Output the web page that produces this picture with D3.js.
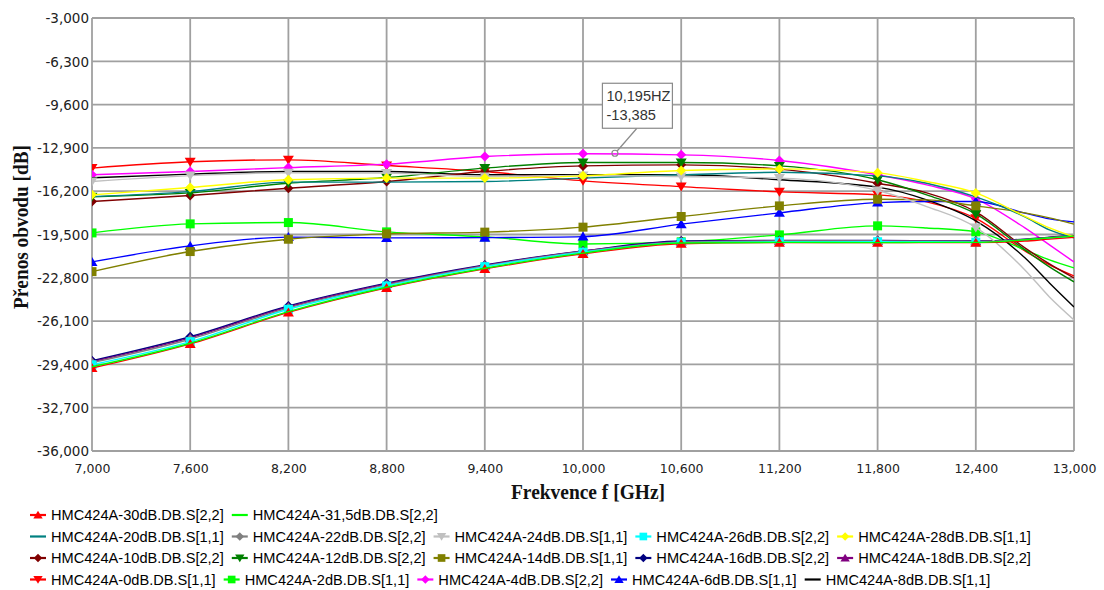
<!DOCTYPE html>
<html>
<head>
<meta charset="utf-8">
<script src="https://cdn.jsdelivr.net/npm/d3@7"></script>
<style>
  body { margin: 0; background: #fff; }
  svg { display: block; }
</style>
</head>
<body>
<svg id="chart" width="1104" height="590"></svg>
<script>
// Frequency points (GHz) at which each trace is sampled
const freqGHz = [7.0, 7.6, 8.2, 8.8, 9.4, 10.0, 10.6, 11.2, 11.8, 12.1, 12.4, 12.7, 12.85, 13.0];

// Transmission [dB] of the HMC424A attenuator at each attenuation state
const s30dB_22   = [-29.68, -27.84, -25.44, -23.57, -22.12, -20.98, -20.20, -20.12, -20.12, -20.12, -20.12, -20.00, -19.85, -19.72];
const s31_5dB_22 = [-29.58, -27.79, -25.38, -23.52, -22.07, -20.92, -20.15, -20.10, -20.12, -20.10, -20.10, -19.90, -19.75, -19.62];
const s20dB_11   = [-16.61, -16.23, -15.51, -15.51, -15.46, -15.20, -14.95, -14.76, -15.03, -15.59, -16.63, -18.16, -19.15, -19.76];
const s22dB_22   = [-29.27, -27.48, -25.10, -23.34, -21.90, -20.80, -20.08, -20.00, -20.00, -20.02, -20.04, -19.90, -19.76, -19.66];
const s24dB_11   = [-15.46, -15.01, -14.80, -14.82, -15.08, -15.00, -15.08, -15.20, -16.15, -17.37, -18.96, -22.20, -24.26, -26.01];
const s26dB_22   = [-29.43, -27.67, -25.20, -23.42, -21.95, -20.85, -20.12, -20.05, -20.05, -20.05, -20.08, -19.95, -19.80, -19.70];
const s28dB_11   = [-16.48, -15.92, -15.33, -15.20, -15.20, -15.03, -14.62, -14.50, -14.80, -15.46, -16.33, -18.12, -19.00, -19.68];
const s10dB_22   = [-16.99, -16.53, -15.97, -15.46, -14.70, -14.27, -14.19, -14.52, -15.59, -16.33, -17.77, -20.52, -21.74, -22.81];
const s12dB_22   = [-16.63, -16.33, -15.59, -15.16, -14.44, -14.01, -14.01, -14.27, -15.33, -16.48, -17.93, -20.67, -21.97, -23.11];
const s14dB_11   = [-22.33, -20.80, -19.86, -19.45, -19.32, -18.94, -18.13, -17.32, -16.81, -16.86, -17.32, -17.85, -18.23, -18.71];
const s16dB_22   = [-29.12, -27.29, -24.95, -23.21, -21.82, -20.75, -20.00, -19.95, -19.95, -19.98, -20.00, -19.85, -19.70, -19.60];
const s18dB_22   = [-29.20, -27.38, -25.02, -23.27, -21.86, -20.78, -20.04, -19.97, -19.97, -20.00, -20.02, -19.88, -19.72, -19.60];
const s0dB_11    = [-14.44, -13.96, -13.81, -14.24, -14.70, -15.41, -15.85, -16.25, -16.48, -17.01, -18.27, -20.75, -21.82, -22.66];
const s2dB_11    = [-19.38, -18.69, -18.59, -19.30, -19.68, -20.22, -20.06, -19.53, -18.84, -19.00, -19.30, -20.67, -21.44, -22.05];
const s4dB_22    = [-14.95, -14.70, -14.40, -14.14, -13.56, -13.35, -13.43, -13.86, -14.95, -15.72, -16.78, -19.00, -20.29, -21.59];
const s6dB_11    = [-21.59, -20.37, -19.70, -19.76, -19.74, -19.66, -18.71, -17.85, -17.07, -16.99, -16.99, -17.87, -18.31, -18.54];
const s8dB_11    = [-15.18, -14.90, -14.70, -14.70, -14.95, -14.95, -14.95, -15.33, -15.89, -16.86, -18.46, -21.28, -23.19, -25.02];

// Axis ticks
const xTicks = [7.0, 7.6, 8.2, 8.8, 9.4, 10.0, 10.6, 11.2, 11.8, 12.4, 13.0];
const yTicks = [-36.0, -32.7, -29.4, -26.1, -22.8, -19.5, -16.2, -12.9, -9.6, -6.3, -3.0];
// Frequencies where point markers are placed
const markerFreqs = [7.0, 7.6, 8.2, 8.8, 9.4, 10.0, 10.6, 11.2, 11.8, 12.4];

// Cursor read-out
const cursorFreq = 10.195;
const cursorValue = -13.385;

// Series table: name, values, colour, marker shape
const series = [
  { key: "0",    name: "HMC424A-0dB.DB.S[1,1]",    values: s0dB_11,    color: "#ff0000", marker: "triDown" },
  { key: "2",    name: "HMC424A-2dB.DB.S[1,1]",    values: s2dB_11,    color: "#00ff00", marker: "square" },
  { key: "4",    name: "HMC424A-4dB.DB.S[2,2]",    values: s4dB_22,    color: "#ff00ff", marker: "diamond" },
  { key: "6",    name: "HMC424A-6dB.DB.S[1,1]",    values: s6dB_11,    color: "#0000ff", marker: "triUp" },
  { key: "8",    name: "HMC424A-8dB.DB.S[1,1]",    values: s8dB_11,    color: "#000000", marker: null },
  { key: "10",   name: "HMC424A-10dB.DB.S[2,2]",   values: s10dB_22,   color: "#800000", marker: "diamond" },
  { key: "12",   name: "HMC424A-12dB.DB.S[2,2]",   values: s12dB_22,   color: "#008000", marker: "triDown" },
  { key: "14",   name: "HMC424A-14dB.DB.S[1,1]",   values: s14dB_11,   color: "#808000", marker: "square" },
  { key: "16",   name: "HMC424A-16dB.DB.S[2,2]",   values: s16dB_22,   color: "#000080", marker: "diamond" },
  { key: "18",   name: "HMC424A-18dB.DB.S[2,2]",   values: s18dB_22,   color: "#800080", marker: "triUp" },
  { key: "20",   name: "HMC424A-20dB.DB.S[1,1]",   values: s20dB_11,   color: "#008080", marker: null },
  { key: "22",   name: "HMC424A-22dB.DB.S[2,2]",   values: s22dB_22,   color: "#808080", marker: "diamond" },
  { key: "24",   name: "HMC424A-24dB.DB.S[1,1]",   values: s24dB_11,   color: "#c0c0c0", marker: "triDown" },
  { key: "26",   name: "HMC424A-26dB.DB.S[2,2]",   values: s26dB_22,   color: "#00ffff", marker: "square" },
  { key: "28",   name: "HMC424A-28dB.DB.S[1,1]",   values: s28dB_11,   color: "#ffff00", marker: "diamond" },
  { key: "30",   name: "HMC424A-30dB.DB.S[2,2]",   values: s30dB_22,   color: "#ff0000", marker: "triUp" },
  { key: "31.5", name: "HMC424A-31,5dB.DB.S[2,2]", values: s31_5dB_22, color: "#00ff00", marker: null }
];

// Legend rows (by series key)
const legendRows = [
  ["30", "31.5"],
  ["20", "22", "24", "26", "28"],
  ["10", "12", "14", "16", "18"],
  ["0", "2", "4", "6", "8"]
];

const markerPaths = {
  triUp:   "M0,-5L5.5,4L-5.5,4Z",
  triDown: "M0,5L5.5,-4L-5.5,-4Z",
  diamond: "M0,-5L5,0L0,5L-5,0Z",
  square:  "M-4.5,-4.5h9v9h-9Z"
};

const fmt = d3.formatLocale({ decimal: ",", thousands: ".", grouping: [3], currency: ["", ""], minus: "-" }).format(".3f");

const svg = d3.select("#chart");
const X0 = 92, X1 = 1074, Y0 = 18, Y1 = 451;
const x = d3.scaleLinear().domain([7, 13]).range([X0, X1]);
const y = d3.scaleLinear().domain([-36, -3]).range([Y1, Y0]);

svg.append("rect").attr("width", 1104).attr("height", 590).attr("fill", "#fff");

svg.append("defs").append("clipPath").attr("id", "plotClip")
  .append("rect").attr("x", X0).attr("y", Y0).attr("width", X1 - X0).attr("height", Y1 - Y0);

// Grid
const grid = svg.append("g").attr("stroke", "#a0a0a0").attr("stroke-width", 1.8);
grid.selectAll("line.gx").data(xTicks).join("line").attr("class", "gx")
  .attr("x1", d => x(d)).attr("x2", d => x(d)).attr("y1", Y0).attr("y2", Y1);
grid.selectAll("line.gy").data(yTicks).join("line").attr("class", "gy")
  .attr("x1", X0).attr("x2", X1).attr("y1", d => y(d)).attr("y2", d => y(d));

// Axes
const yAxis = svg.append("g").attr("transform", `translate(${X0},0)`)
  .call(d3.axisLeft(y).tickValues(yTicks).tickFormat(fmt).tickSize(0).tickPadding(3));
yAxis.select(".domain").remove();
yAxis.attr("font-family", "DejaVu Sans").attr("font-size", 13.5);
yAxis.selectAll("text").attr("fill", "#222").attr("dy", "0.35em");

const xAxis = svg.append("g").attr("transform", `translate(0,${Y1})`)
  .call(d3.axisBottom(x).tickValues(xTicks).tickFormat(fmt).tickSize(0).tickPadding(13));
xAxis.select(".domain").remove();
xAxis.attr("font-family", "DejaVu Sans").attr("font-size", 12.5);
xAxis.selectAll("text").attr("fill", "#222");

// Axis titles
svg.append("text")
  .attr("transform", "translate(28,227) rotate(-90)")
  .attr("text-anchor", "middle")
  .attr("font-family", "Liberation Serif").attr("font-weight", "bold").attr("font-size", 20)
  .attr("textLength", 164).attr("lengthAdjust", "spacingAndGlyphs")
  .attr("fill", "#111")
  .text("Přenos obvodu [dB]");

svg.append("text")
  .attr("x", 588).attr("y", 499)
  .attr("text-anchor", "middle")
  .attr("font-family", "Liberation Serif").attr("font-weight", "bold").attr("font-size", 20)
  .attr("textLength", 154).attr("lengthAdjust", "spacingAndGlyphs")
  .attr("fill", "#111")
  .text("Frekvence f [GHz]");

// Traces
const line = d3.line().x(d => x(d[0])).y(d => y(d[1])).curve(d3.curveMonotoneX);
const plot = svg.append("g").attr("clip-path", "url(#plotClip)");

series.forEach(s => {
  const pts = freqGHz.map((f, i) => [f, s.values[i]]);
  const g = plot.append("g");
  g.append("path").datum(pts)
    .attr("d", line).attr("fill", "none")
    .attr("stroke", s.color).attr("stroke-width", 1.4);
  if (s.marker) {
    const mk = pts.filter(p => markerFreqs.some(m => Math.abs(m - p[0]) < 1e-9));
    g.selectAll("path.mk").data(mk).join("path").attr("class", "mk")
      .attr("d", markerPaths[s.marker])
      .attr("transform", d => `translate(${x(d[0])},${y(d[1])})`)
      .attr("fill", s.color);
  }
});

// Cursor read-out box
const ax = x(cursorFreq), ay = y(cursorValue);
const cur = svg.append("g");
cur.append("circle").attr("cx", ax).attr("cy", ay - 1).attr("r", 3)
  .attr("fill", "none").attr("stroke", "#8a8a8a").attr("stroke-width", 1.2);
cur.append("line").attr("x1", ax + 2).attr("y1", ay - 3).attr("x2", ax + 22).attr("y2", ay - 26)
  .attr("stroke", "#8a8a8a").attr("stroke-width", 1.2);
const bx = ax - 12.5, by = ay - 71;
cur.append("rect").attr("x", bx).attr("y", by).attr("width", 70).attr("height", 45)
  .attr("fill", "#fff").attr("stroke", "#8a8a8a").attr("stroke-width", 1.2);
cur.append("text").attr("x", bx + 4).attr("y", by + 17.5)
  .attr("font-family", "Liberation Sans").attr("font-size", 14.6).attr("fill", "#333")
  .text(fmt(cursorFreq) + "HZ");
cur.append("text").attr("x", bx + 4).attr("y", by + 37)
  .attr("font-family", "Liberation Sans").attr("font-size", 14.6).attr("fill", "#333")
  .text(fmt(cursorValue));

// Legend
const byKey = new Map(series.map(s => [s.key, s]));
const rowY = [515, 536.5, 558, 579.5];
const legend = svg.append("g").attr("font-family", "Liberation Sans").attr("font-size", 14.6);
legendRows.forEach((row, r) => {
  let cx = 30;
  row.forEach(k => {
    const s = byKey.get(k);
    const item = legend.append("g").attr("transform", `translate(${cx},${rowY[r]})`);
    item.append("line").attr("x1", 0).attr("x2", 16).attr("y1", 0).attr("y2", 0)
      .attr("stroke", s.color).attr("stroke-width", 2.2);
    if (s.marker) {
      item.append("path").attr("d", markerPaths[s.marker])
        .attr("transform", "translate(8,0) scale(0.85)").attr("fill", s.color);
    }
    const t = item.append("text").attr("x", 21).attr("y", 5.2).attr("fill", "#000").text(s.name);
    cx += 21 + t.node().getComputedTextLength() + 8;
  });
});
</script>
</body>
</html>
